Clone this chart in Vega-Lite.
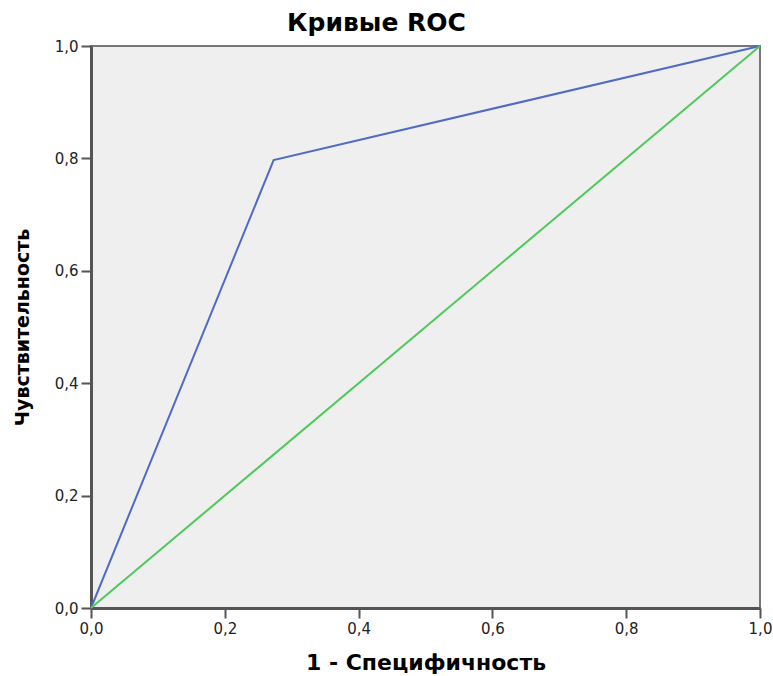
{
  "$schema": "https://vega.github.io/schema/vega-lite/v6.json",
  "width": 669,
  "height": 562,
  "autosize": {"type": "none"},
  "padding": {"left": 91, "top": 46, "right": 13, "bottom": 68},
  "background": "white",
  "title": {"text": "Кривые ROC", "font": "DejaVu Sans", "fontSize": 25, "fontWeight": "bold", "color": "#000", "anchor": "middle", "dx": -49, "offset": 3},
  "data": {"values": [
    {"series": "ROC", "order": 0, "x": 0, "y": 0},
    {"series": "ROC", "order": 1, "x": 0.273, "y": 0.797},
    {"series": "ROC", "order": 2, "x": 1, "y": 1},
    {"series": "Опорная линия", "order": 0, "x": 0, "y": 0},
    {"series": "Опорная линия", "order": 1, "x": 1, "y": 1}
  ]},
  "mark": {"type": "line", "strokeWidth": 2},
  "encoding": {
    "x": {"field": "x", "type": "quantitative", "scale": {"domain": [0, 1], "nice": false},
      "axis": {"title": "1 - Специфичность", "values": [0, 0.2, 0.4, 0.6, 0.8, 1], "labelExpr": "replace(format(datum.value, '.1f'), '.', ',')", "grid": false, "labelFlush": false, "titlePadding": 16, "titleFontSize": 22}},
    "y": {"field": "y", "type": "quantitative", "scale": {"domain": [0, 1], "nice": false},
      "axis": {"title": "Чувствительность", "values": [0, 0.2, 0.4, 0.6, 0.8, 1], "labelExpr": "replace(format(datum.value, '.1f'), '.', ',')", "grid": false, "labelFlush": false, "titlePadding": 22, "titleFontSize": 19}},
    "color": {"field": "series", "type": "nominal", "scale": {"domain": ["ROC", "Опорная линия"], "range": ["#4f6bc4", "#4ec95a"]}, "legend": null},
    "order": {"field": "order", "type": "quantitative"}
  },
  "config": {
    "view": {"fill": "#efefef", "stroke": "#777", "strokeWidth": 2},
    "axis": {
      "domainColor": "#555", "domainWidth": 3, "tickColor": "#555", "tickWidth": 2, "tickSize": 10,
      "labelFont": "DejaVu Sans", "labelFontSize": 15, "labelColor": "#222", "labelPadding": 3,
      "titleFont": "DejaVu Sans", "titleFontWeight": "bold", "titleColor": "#000"
    }
  }
}
